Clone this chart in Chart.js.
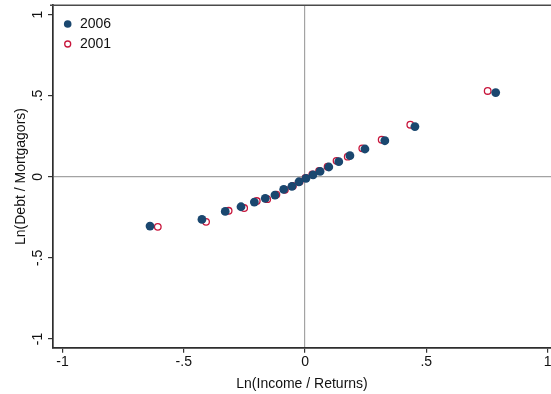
<!DOCTYPE html>
<html>
<head>
<meta charset="utf-8">
<script src="https://cdn.jsdelivr.net/npm/chart.js@4/dist/chart.umd.min.js"></script>
<style>
  html, body { margin: 0; padding: 0; background: #ffffff; }
  #wrap { width: 551px; height: 394px; }
</style>
</head>
<body>
<div id="wrap"><canvas id="c" width="551" height="394"></canvas></div>
<script>
// Binned means: log income per return vs log debt per mortgagor
const seriesLabels = ['2006', '2001'];
const income2006 = [-0.639, -0.425, -0.329, -0.264, -0.209, -0.164, -0.124, -0.088, -0.054, -0.025,
                     0.004,  0.033,  0.062,  0.098,  0.139,  0.185,  0.247,  0.329,  0.453,  0.786];
const debt2006   = [-0.304, -0.263, -0.214, -0.185, -0.156, -0.133, -0.113, -0.078, -0.059, -0.031,
                    -0.010,  0.012,  0.033,  0.060,  0.093,  0.130,  0.171,  0.222,  0.309,  0.519];
const income2001 = [-0.607, -0.408, -0.315, -0.251, -0.199, -0.156, -0.118, -0.083, -0.050, -0.022,
                     0.002,  0.030,  0.058,  0.093,  0.130,  0.176,  0.236,  0.316,  0.434,  0.753];
const debt2001   = [-0.309, -0.278, -0.210, -0.193, -0.150, -0.138, -0.110, -0.080, -0.057, -0.030,
                    -0.008,  0.014,  0.036,  0.062,  0.098,  0.124,  0.175,  0.228,  0.321,  0.529];
const xTicks = [-1, -0.5, 0, 0.5, 1];
const yTicks = [-1, -0.5, 0, 0.5, 1];
const xTitle = 'Ln(Income / Returns)';
const yTitle = 'Ln(Debt / Mortgagors)';

const FONT = '"Liberation Sans", Arial, Helvetica, sans-serif';
const NAVY = '#1a476f';
const RED = '#c8163c';

// Stata-style number labels: ".5", "-.5", "0", "1"
function fmt(v) {
  if (v === 0) return '0';
  const s = String(Math.abs(v)).replace(/^0\./, '.');
  return (v < 0 ? '-' : '') + s;
}

function pairs(xs, ys) { return xs.map((x, i) => ({ x: x, y: ys[i] })); }

// Vertical (rotated) labels for the y axis
const rotatedYTicks = {
  id: 'rotatedYTicks',
  afterDraw(chart) {
    const sc = chart.scales.y, ctx = chart.ctx;
    ctx.save();
    ctx.font = '14px ' + FONT;
    ctx.fillStyle = '#111';
    ctx.textAlign = 'center';
    ctx.textBaseline = 'middle';
    sc.ticks.forEach((t, i) => {
      const py = sc.getPixelForTick(i);
      ctx.save();
      ctx.translate(38.5, py);
      ctx.rotate(-Math.PI / 2);
      ctx.fillText(fmt(t.value), 0, 0);
      ctx.restore();
    });
    ctx.restore();
  }
};

// Upper frame line of the plot region
const topFrame = {
  id: 'topFrame',
  beforeDatasetsDraw(chart) {
    const a = chart.chartArea, ctx = chart.ctx;
    ctx.save();
    ctx.strokeStyle = '#4a4a4a';
    ctx.lineWidth = 1.6;
    ctx.beginPath();
    ctx.moveTo(a.left - 3, a.top);
    ctx.lineTo(a.right, a.top);
    ctx.stroke();
    ctx.restore();
  }
};

// Legend inside the upper-left corner of the plot
const insideLegend = {
  id: 'insideLegend',
  afterDatasetsDraw(chart) {
    const ctx = chart.ctx, a = chart.chartArea;
    ctx.save();
    ctx.font = '14px ' + FONT;
    ctx.textBaseline = 'middle';
    ctx.textAlign = 'left';
    chart.data.datasets.forEach((ds, i) => {
      const cx = a.left + 14.7, cy = a.top + 18.7 + i * 20;
      ctx.beginPath();
      if (ds.filledMarker) {
        ctx.fillStyle = ds.backgroundColor;
        ctx.arc(cx, cy, 3.8, 0, Math.PI * 2);
        ctx.fill();
      } else {
        ctx.strokeStyle = ds.borderColor;
        ctx.lineWidth = ds.borderWidth;
        ctx.arc(cx, cy, 3.0, 0, Math.PI * 2);
        ctx.stroke();
      }
      ctx.fillStyle = '#111';
      ctx.fillText(ds.label, cx + 12.3, cy + 0.5);
    });
    ctx.restore();
  }
};

function gridColor(c) {
  return (c.tick && c.tick.value === 0) ? '#a3a3a3' : 'rgba(0,0,0,0)';
}

new Chart(document.getElementById('c'), {
  type: 'scatter',
  data: {
    datasets: [
      {
        label: seriesLabels[0],
        data: pairs(income2006, debt2006),
        backgroundColor: NAVY,
        borderColor: NAVY,
        borderWidth: 0,
        pointRadius: 4.4,
        pointHoverRadius: 4.4,
        filledMarker: true
      },
      {
        label: seriesLabels[1],
        data: pairs(income2001, debt2001),
        backgroundColor: 'rgba(0,0,0,0)',
        borderColor: RED,
        borderWidth: 1.3,
        pointRadius: 3.3,
        pointHoverRadius: 3.3,
        filledMarker: false
      }
    ]
  },
  options: {
    responsive: false,
    devicePixelRatio: 1,
    animation: false,
    layout: { autoPadding: false, padding: { top: 5.3, right: 0, left: 0, bottom: 0 } },
    plugins: {
      legend: { display: false },
      tooltip: { enabled: false }
    },
    scales: {
      x: {
        type: 'linear',
        position: 'bottom',
        min: -1.039,
        max: 1.014,
        afterBuildTicks: s => { s.ticks = xTicks.map(v => ({ value: v })); },
        afterFit: s => { s.height = 46.3; s.paddingRight = 0; s.paddingLeft = 0; },
        ticks: {
          callback: v => fmt(v),
          font: { family: FONT, size: 14 },
          color: '#111',
          padding: 1,
          maxRotation: 0,
          autoSkip: false
        },
        grid: {
          color: gridColor,
          lineWidth: 1.2,
          tickColor: '#333',
          tickLength: 5,
          tickWidth: 1.2
        },
        border: { display: true, color: '#2e2e2e', width: 1.7 },
        title: {
          display: true,
          text: xTitle,
          font: { family: FONT, size: 14 },
          color: '#111',
          padding: { top: 0, bottom: 1 }
        }
      },
      y: {
        type: 'linear',
        position: 'left',
        min: -1.054,
        max: 1.057,
        afterBuildTicks: s => { s.ticks = yTicks.map(v => ({ value: v })); },
        afterFit: s => { s.width = 53; s.paddingTop = 0; s.paddingBottom = 0; },
        ticks: { display: false },
        grid: {
          color: gridColor,
          lineWidth: 1.2,
          tickColor: '#333',
          tickLength: 5,
          tickWidth: 1.2
        },
        border: { display: true, color: '#2e2e2e', width: 1.7 },
        title: {
          display: true,
          text: yTitle,
          font: { family: FONT, size: 14 },
          color: '#111',
          padding: { top: 13, bottom: 0 }
        }
      }
    }
  },
  plugins: [rotatedYTicks, topFrame, insideLegend]
});
</script>
</body>
</html>
